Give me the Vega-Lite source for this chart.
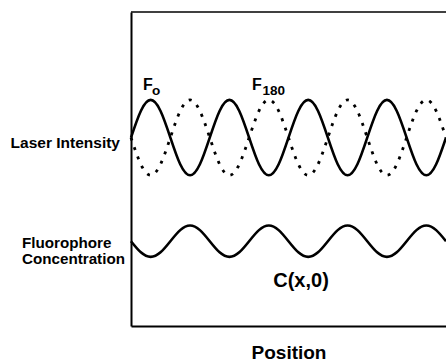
{
  "$schema": "https://vega.github.io/schema/vega-lite/v6.json",
  "width": 315,
  "height": 314,
  "autosize": "none",
  "padding": {"left": 131, "top": 12, "right": 0, "bottom": 36},
  "background": "white",
  "config": {
    "view": {"stroke": null},
    "font": "Liberation Sans",
    "axis": {"domainColor": "black", "ticks": false, "labels": false, "grid": false},
    "axisX": {"domainWidth": 2, "titleFont": "Liberation Sans", "titleFontSize": 19, "titleFontWeight": "bold", "titleColor": "black", "titlePadding": 17},
    "axisY": {"domainWidth": 2, "title": null}
  },
  "datasets": {
    "waves": [
      {"x": 0, "f0": 6, "f180": 6, "c": 2.7},
      {"x": 0.125, "f0": 6.849, "f180": 5.151, "c": 2.346},
      {"x": 0.25, "f0": 7.2, "f180": 4.8, "c": 2.2},
      {"x": 0.375, "f0": 6.849, "f180": 5.151, "c": 2.346},
      {"x": 0.5, "f0": 6, "f180": 6, "c": 2.7},
      {"x": 0.625, "f0": 5.151, "f180": 6.849, "c": 3.054},
      {"x": 0.75, "f0": 4.8, "f180": 7.2, "c": 3.2},
      {"x": 0.875, "f0": 5.151, "f180": 6.849, "c": 3.054},
      {"x": 1, "f0": 6, "f180": 6, "c": 2.7},
      {"x": 1.125, "f0": 6.849, "f180": 5.151, "c": 2.346},
      {"x": 1.25, "f0": 7.2, "f180": 4.8, "c": 2.2},
      {"x": 1.375, "f0": 6.849, "f180": 5.151, "c": 2.346},
      {"x": 1.5, "f0": 6, "f180": 6, "c": 2.7},
      {"x": 1.625, "f0": 5.151, "f180": 6.849, "c": 3.054},
      {"x": 1.75, "f0": 4.8, "f180": 7.2, "c": 3.2},
      {"x": 1.875, "f0": 5.151, "f180": 6.849, "c": 3.054},
      {"x": 2, "f0": 6, "f180": 6, "c": 2.7},
      {"x": 2.125, "f0": 6.849, "f180": 5.151, "c": 2.346},
      {"x": 2.25, "f0": 7.2, "f180": 4.8, "c": 2.2},
      {"x": 2.375, "f0": 6.849, "f180": 5.151, "c": 2.346},
      {"x": 2.5, "f0": 6, "f180": 6, "c": 2.7},
      {"x": 2.625, "f0": 5.151, "f180": 6.849, "c": 3.054},
      {"x": 2.75, "f0": 4.8, "f180": 7.2, "c": 3.2},
      {"x": 2.875, "f0": 5.151, "f180": 6.849, "c": 3.054},
      {"x": 3, "f0": 6, "f180": 6, "c": 2.7},
      {"x": 3.125, "f0": 6.849, "f180": 5.151, "c": 2.346},
      {"x": 3.25, "f0": 7.2, "f180": 4.8, "c": 2.2},
      {"x": 3.375, "f0": 6.849, "f180": 5.151, "c": 2.346},
      {"x": 3.5, "f0": 6, "f180": 6, "c": 2.7},
      {"x": 3.625, "f0": 5.151, "f180": 6.849, "c": 3.054},
      {"x": 3.75, "f0": 4.8, "f180": 7.2, "c": 3.2},
      {"x": 3.875, "f0": 5.151, "f180": 6.849, "c": 3.054},
      {"x": 4, "f0": 6, "f180": 6, "c": 2.7}
    ]
  },
  "layer": [
    {
      "data": {"name": "waves"},
      "mark": {"type": "line", "interpolate": "natural", "color": "black", "strokeWidth": 2.6},
      "encoding": {
        "x": {"field": "x", "type": "quantitative", "title": "Position", "scale": {"domain": [0, 4], "nice": false, "zero": false}},
        "y": {"field": "f0", "type": "quantitative", "title": null, "scale": {"domain": [0, 10], "nice": false, "zero": false}}
      }
    },
    {
      "data": {"name": "waves"},
      "mark": {"type": "line", "interpolate": "natural", "color": "black", "strokeWidth": 2.8, "strokeDash": [3, 7], "strokeCap": "butt"},
      "encoding": {
        "x": {"field": "x", "type": "quantitative", "title": "Position"},
        "y": {"field": "f180", "type": "quantitative", "title": null}
      }
    },
    {
      "data": {"name": "waves"},
      "mark": {"type": "line", "interpolate": "natural", "color": "black", "strokeWidth": 2.6},
      "encoding": {
        "x": {"field": "x", "type": "quantitative", "title": "Position"},
        "y": {"field": "c", "type": "quantitative", "title": null}
      }
    },
    {
      "data": {"values": [{"top": 10}]},
      "mark": {"type": "rule", "color": "black", "strokeWidth": 1.3},
      "encoding": {"y": {"field": "top", "type": "quantitative", "title": null}}
    },
    {
      "data": {"values": [{"text": "Laser Intensity", "x": -0.14, "y": 5.66}]},
      "mark": {"type": "text", "align": "right", "baseline": "alphabetic", "fontSize": 15.5, "fontWeight": "bold", "color": "black"},
      "encoding": {
        "x": {"field": "x", "type": "quantitative", "title": "Position"},
        "y": {"field": "y", "type": "quantitative", "title": null},
        "text": {"field": "text"}
      }
    },
    {
      "data": {"values": [
        {"text": "Fluorophore\nConcentration", "x": -1.384, "y": 2.5}
      ]},
      "mark": {"type": "text", "align": "left", "baseline": "alphabetic", "lineBreak": "\n", "lineHeight": 16.5, "fontSize": 15.2, "fontWeight": "bold", "color": "black"},
      "encoding": {
        "x": {"field": "x", "type": "quantitative", "title": "Position"},
        "y": {"field": "y", "type": "quantitative", "title": null},
        "text": {"field": "text"}
      }
    },
    {
      "data": {"values": [
        {"text": "F", "x": 0.152, "y": 7.52},
        {"text": "F", "x": 1.537, "y": 7.52}
      ]},
      "mark": {"type": "text", "align": "left", "baseline": "alphabetic", "fontSize": 16, "fontWeight": "bold", "color": "black"},
      "encoding": {
        "x": {"field": "x", "type": "quantitative", "title": "Position"},
        "y": {"field": "y", "type": "quantitative", "title": null},
        "text": {"field": "text"}
      }
    },
    {
      "data": {"values": [
        {"text": "o", "x": 0.267, "y": 7.36},
        {"text": "180", "x": 1.67, "y": 7.36}
      ]},
      "mark": {"type": "text", "align": "left", "baseline": "alphabetic", "fontSize": 13.5, "fontWeight": "bold", "color": "black"},
      "encoding": {
        "x": {"field": "x", "type": "quantitative", "title": "Position"},
        "y": {"field": "y", "type": "quantitative", "title": null},
        "text": {"field": "text"}
      }
    },
    {
      "data": {"values": [{"text": "C(x,0)", "x": 2.159, "y": 1.242}]},
      "mark": {"type": "text", "align": "center", "baseline": "alphabetic", "fontSize": 20, "fontWeight": "bold", "color": "black"},
      "encoding": {
        "x": {"field": "x", "type": "quantitative", "title": "Position"},
        "y": {"field": "y", "type": "quantitative", "title": null},
        "text": {"field": "text"}
      }
    }
  ]
}
